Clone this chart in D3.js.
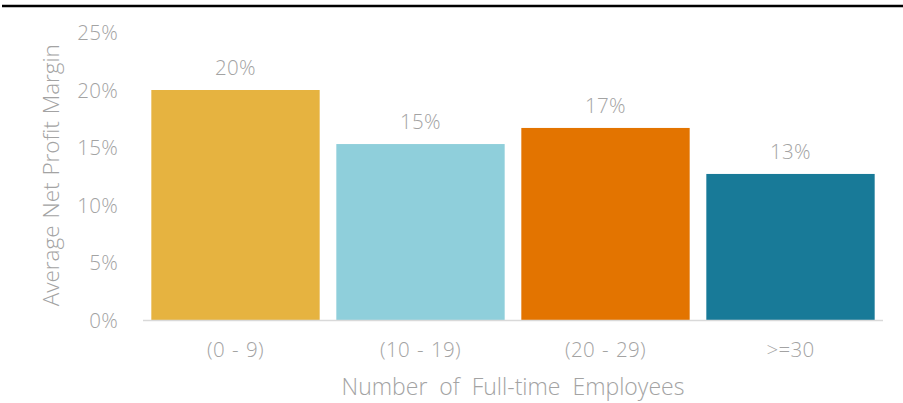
<!DOCTYPE html>
<html>
<head>
<meta charset="utf-8">
<script src="https://cdn.jsdelivr.net/npm/d3@7"></script>
<style>
  html, body { margin: 0; padding: 0; background: #fff; }
  svg text { font-family: "Open Sans", "Noto Sans", sans-serif; font-weight: 300; fill: #a3a3a3; }
</style>
</head>
<body>
<svg id="chart" width="903" height="403"></svg>
<script>
// Employee-size groups and their average net profit margin
const categories = ["(0 - 9)", "(10 - 19)", "(20 - 29)", ">=30"];
const margins = [0.200, 0.153, 0.167, 0.127];
const barColors = ["#e6b340", "#8fcfdb", "#e37400", "#187a98"];
const yTicks = [0, 0.05, 0.10, 0.15, 0.20, 0.25];

(function () {
  const svg = d3.select("#chart");
  const W = 903;
  const plotLeft = 143, plotRight = 883, plotTop = 32.5, plotBottom = 320;
  const labelFont = "20.5px";

  // Heavy rule across the top
  svg.append("line")
    .attr("x1", 2).attr("x2", W).attr("y1", 6).attr("y2", 6)
    .attr("stroke", "#000").attr("stroke-width", 2.5);

  const x = d3.scaleBand().domain(categories).range([plotLeft, plotRight])
    .paddingInner(0.09).paddingOuter(0.045);
  const y = d3.scaleLinear().domain([0, 0.25]).range([plotBottom, plotTop]);
  const pct = d3.format(".0%");

  // Y axis: labels only
  const yAxis = svg.append("g").attr("transform", `translate(${plotLeft - 25},0)`)
    .call(d3.axisLeft(y).tickValues(yTicks).tickFormat(pct).tickSize(0).tickPadding(0));
  yAxis.select(".domain").remove();
  yAxis.selectAll("text").style("font-size", labelFont)
    .style("letter-spacing", "0.3px").attr("dy", "0.35em");

  // Bars
  svg.append("g").selectAll("rect").data(margins).join("rect")
    .attr("x", (d, i) => x(categories[i]))
    .attr("y", d => y(d))
    .attr("width", x.bandwidth())
    .attr("height", d => y(0) - y(d))
    .attr("fill", (d, i) => barColors[i]);

  // Value labels above bars
  svg.append("g").selectAll("text").data(margins).join("text")
    .attr("x", (d, i) => x(categories[i]) + x.bandwidth() / 2)
    .attr("y", d => y(d) - 22)
    .attr("dy", "0.35em")
    .attr("text-anchor", "middle")
    .style("font-size", labelFont)
    .style("letter-spacing", "0.3px")
    .text(d => pct(d));

  // X axis
  const xAxis = svg.append("g").attr("transform", `translate(0,${plotBottom})`)
    .call(d3.axisBottom(x).tickSize(0).tickPadding(0));
  xAxis.select(".domain").attr("stroke", "#d9d9d9").attr("stroke-width", 1.5)
    .attr("d", `M${plotLeft},0.5H${plotRight}`);
  xAxis.selectAll("text").style("font-size", labelFont)
    .style("letter-spacing", "0.3px").style("word-spacing", "1.5px")
    .attr("y", 30).attr("dy", "0.35em");

  // Axis titles
  svg.append("text")
    .attr("x", (plotLeft + plotRight) / 2).attr("y", 387).attr("dy", "0.35em")
    .attr("text-anchor", "middle").style("font-size", "23px")
    .style("word-spacing", "6px")
    .text("Number of Full-time Employees");

  svg.append("text")
    .attr("transform", `translate(51,${(plotTop + plotBottom) / 2 - 1}) rotate(-90)`)
    .attr("dy", "0.35em")
    .attr("text-anchor", "middle").style("font-size", "22.5px")
    .style("word-spacing", "1px")
    .text("Average Net Profit Margin");
})();
</script>
</body>
</html>
